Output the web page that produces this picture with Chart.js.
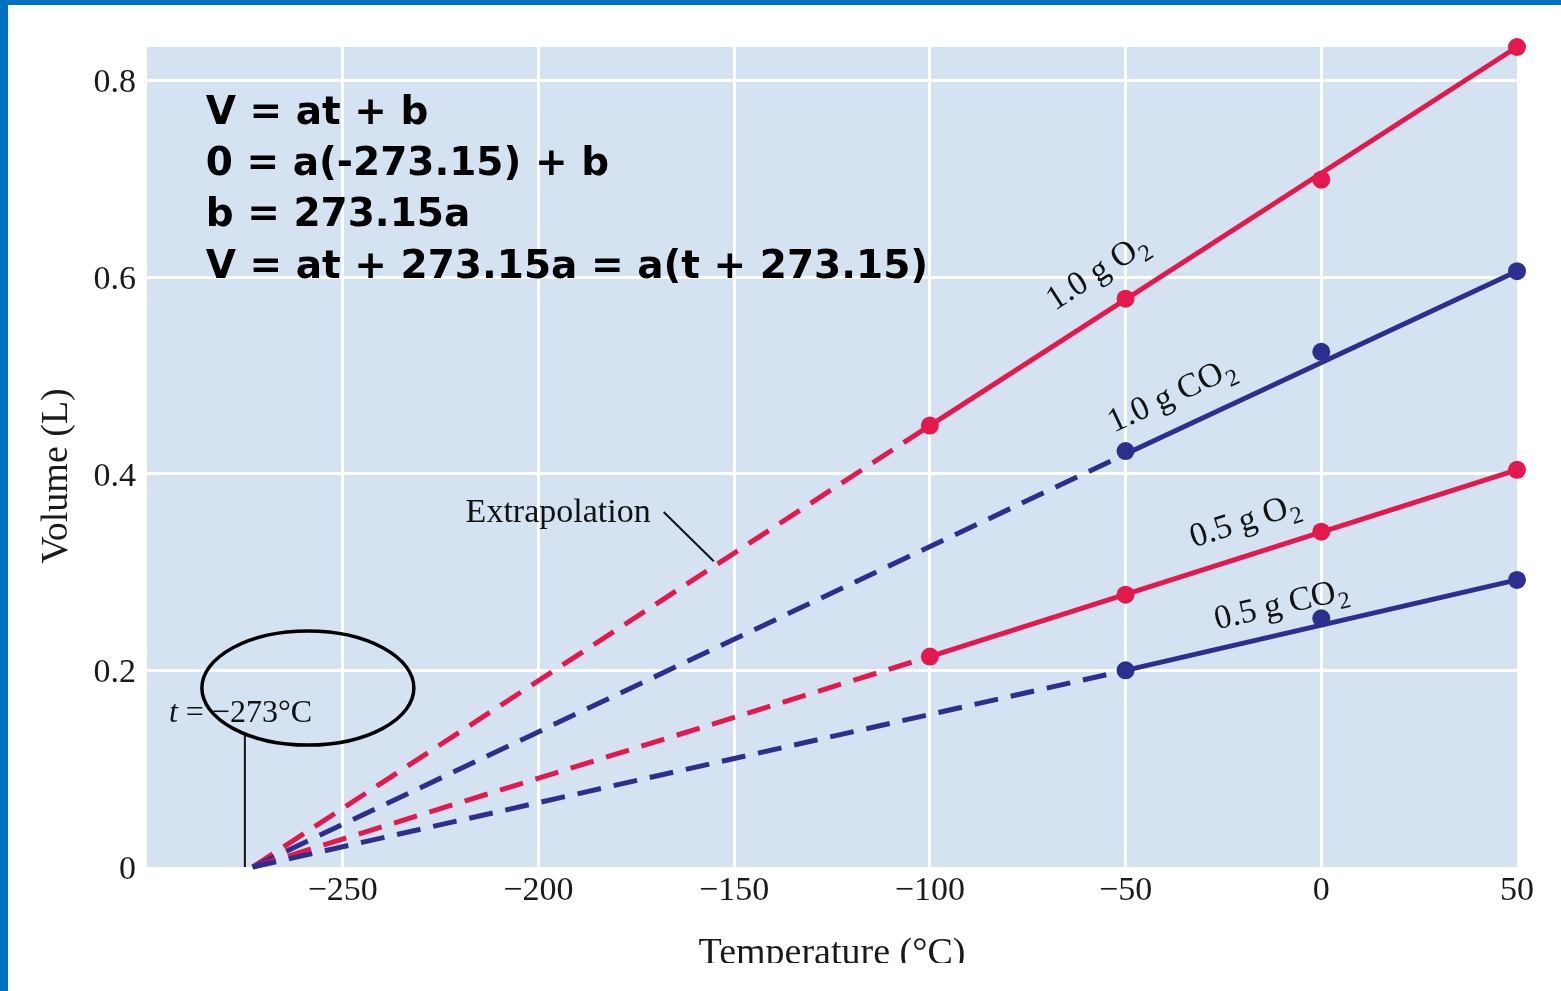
<!DOCTYPE html>
<html>
<head>
<meta charset="utf-8">
<script src="https://cdn.jsdelivr.net/npm/chart.js@4.4.1/dist/chart.umd.min.js"></script>
<style>
  html, body { margin: 0; padding: 0; background: #fff; overflow: hidden; }
  #wrap { position: absolute; left: 0; top: 0; width: 1561px; height: 963px; }
  .bar { position: absolute; background: #0070C0; }
</style>
</head>
<body>
<div id="wrap"><canvas id="gasChart"></canvas></div>
<div class="bar" style="left:0;top:0;width:1561px;height:5px"></div>
<div class="bar" style="left:0;top:0;width:8px;height:991px"></div>
<script>
// axis ticks
const xTicks = [-250, -200, -150, -100, -50, 0, 50];
const yTicks = [0, 0.2, 0.4, 0.6, 0.8];

// measured points (t in °C, V in L)
const o2OneT = [-100, -50, 0, 50];
const o2OneV = [0.449, 0.578, 0.699, 0.834];
const co2OneT = [-50, 0, 50];
const co2OneV = [0.423, 0.524, 0.606];
const o2HalfT = [-100, -50, 0, 50];
const o2HalfV = [0.214, 0.277, 0.341, 0.404];
const co2HalfT = [-50, 0, 50];
const co2HalfV = [0.200, 0.253, 0.292];

// straight lines: absolute zero -> first measurement (dashed) -> last measurement
const o2OneFitT = [-273, -100, 50];
const o2OneFitV = [0, 0.449, 0.834];
const co2OneFitT = [-273, -50, 50];
const co2OneFitV = [0, 0.420, 0.606];
const o2HalfFitT = [-273, -100, 50];
const o2HalfFitV = [0, 0.214, 0.404];
const co2HalfFitT = [-273, -50, 50];
const co2HalfFitV = [0, 0.200, 0.292];

const seriesText = ["1.0 g O", "1.0 g CO", "0.5 g O", "0.5 g CO"];
const equations = [
  "V = at + b",
  "0 = a(-273.15) + b",
  "b = 273.15a",
  "V = at + 273.15a = a(t + 273.15)"
];

const RED = "#E3194D";
const BLUE = "#2C2F8F";
const SERIF = '"Liberation Serif", "Times New Roman", serif';

const zip = (xs, ys) => xs.map((x, i) => ({ x: x, y: ys[i] }));

function fitLine(xs, ys, color) {
  return {
    data: zip(xs, ys),
    borderColor: color,
    borderWidth: 5,
    borderCapStyle: "butt",
    pointRadius: 0,
    clip: false,
    segment: {
      borderDash: ctx => (ctx.p0DataIndex === 0 ? [24, 13] : undefined),
    },
  };
}

function dots(xs, ys, color) {
  return {
    data: zip(xs, ys),
    showLine: false,
    pointRadius: 9,
    pointBackgroundColor: color,
    pointBorderWidth: 0,
    clip: false,
  };
}

// label anchors, in data units
const labelAt = [[-57.5, 0.606], [-38.5, 0.481], [-19.7, 0.353], [-10.4, 0.268]];
const fitLines = [
  [o2OneFitT, o2OneFitV],
  [co2OneFitT, co2OneFitV],
  [o2HalfFitT, o2HalfFitV],
  [co2HalfFitT, co2HalfFitV],
];

const annotate = {
  id: "annotate",
  beforeDraw(chart) {
    const { ctx, chartArea: a } = chart;
    ctx.save();
    ctx.fillStyle = "#D4E2F2";
    ctx.fillRect(a.left, a.top, a.right - a.left, a.bottom - a.top);
    ctx.restore();
  },
  afterDatasetsDraw(chart) {
    const ctx = chart.ctx;
    const xs = chart.scales.x;
    const ys = chart.scales.y;
    const px = v => xs.getPixelForValue(v);
    const py = v => ys.getPixelForValue(v);

    ctx.save();
    // equations
    ctx.fillStyle = "#000";
    ctx.font = 'bold 39px "DejaVu Sans", Verdana, sans-serif';
    ctx.textBaseline = "alphabetic";
    equations.forEach((line, i) => {
      ctx.fillText(line, px(-285), py(0.756) + i * 51.3);
    });

    // line labels, along each line
    fitLines.forEach((f, i) => {
      const n = f[0].length - 1;
      const ang = Math.atan2(py(f[1][n]) - py(f[1][1]), px(f[0][n]) - px(f[0][1]));
      ctx.save();
      ctx.translate(px(labelAt[i][0]), py(labelAt[i][1]));
      ctx.rotate(ang);
      ctx.fillStyle = "#111";
      ctx.font = "34px " + SERIF;
      const w1 = ctx.measureText(seriesText[i]).width;
      ctx.font = "24px " + SERIF;
      const w2 = ctx.measureText("2").width;
      const x0 = -(w1 + w2) / 2;
      ctx.font = "34px " + SERIF;
      ctx.fillText(seriesText[i], x0, 11);
      ctx.font = "24px " + SERIF;
      ctx.fillText("2", x0 + w1 + 1, 19);
      ctx.restore();
    });

    // Extrapolation callout
    ctx.fillStyle = "#111";
    ctx.font = "34px " + SERIF;
    ctx.fillText("Extrapolation", px(-218.6), py(0.351));
    ctx.strokeStyle = "#111";
    ctx.lineWidth = 2;
    ctx.beginPath();
    ctx.moveTo(px(-168), py(0.361));
    ctx.lineTo(px(-155.2), py(0.311));
    ctx.stroke();

    // t = -273 °C callout
    const tx = px(-294.4), ty = py(0.147);
    ctx.font = "italic 32px " + SERIF;
    ctx.fillText("t", tx, ty);
    const tw = ctx.measureText("t").width;
    ctx.font = "32px " + SERIF;
    ctx.fillText(" = \u2212273\u00B0C", tx + tw, ty);
    ctx.lineWidth = 2;
    ctx.beginPath();
    ctx.moveTo(px(-275), py(0.137));
    ctx.lineTo(px(-275), py(0));
    ctx.stroke();

    // ellipse around the value
    ctx.strokeStyle = "#000";
    ctx.lineWidth = 3.5;
    ctx.beginPath();
    ctx.ellipse(px(-258.9), py(0.182), 106, 57, 0, 0, Math.PI * 2);
    ctx.stroke();
    ctx.restore();
  },
};

const chart = new Chart(document.getElementById("gasChart"), {
  type: "line",
  data: {
    datasets: [
      fitLine(co2HalfFitT, co2HalfFitV, BLUE),
      fitLine(o2HalfFitT, o2HalfFitV, RED),
      fitLine(co2OneFitT, co2OneFitV, BLUE),
      fitLine(o2OneFitT, o2OneFitV, RED),
      dots(co2HalfT, co2HalfV, BLUE),
      dots(o2HalfT, o2HalfV, RED),
      dots(co2OneT, co2OneV, BLUE),
      dots(o2OneT, o2OneV, RED),
    ],
  },
  options: {
    responsive: true,
    maintainAspectRatio: false,
    animation: false,
    events: [],
    layout: { padding: { top: 47, right: 44, left: 0, bottom: 0 } },
    scales: {
      x: {
        type: "linear",
        min: -300,
        max: 50,
        afterBuildTicks: s => { s.ticks = xTicks.map(v => ({ value: v })); },
        afterFit: s => { s.height = 96; },
        ticks: {
          color: "#1a1a1a",
          font: { family: SERIF, size: 34 },
          padding: 4,
          maxRotation: 0,
          callback: v => (v < 0 ? "\u2212" + Math.abs(v) : String(v)),
        },
        grid: {
          color: c => (c.tick && c.tick.value === 50 ? "rgba(0,0,0,0)" : "#ffffff"),
          lineWidth: 3,
          drawTicks: false,
        },
        border: { display: false },
        title: {
          display: true,
          text: "Temperature (\u00B0C)",
          color: "#1a1a1a",
          font: { family: SERIF, size: 38, lineHeight: 0.45 },
          padding: 0,
        },
      },
      y: {
        min: 0,
        max: 0.834,
        afterBuildTicks: s => { s.ticks = yTicks.map(v => ({ value: v })); },
        afterFit: s => { s.width = 147; },
        ticks: {
          color: "#1a1a1a",
          font: { family: SERIF, size: 34 },
          padding: 11,
          labelOffset: 3,
          callback: v => (v === 0 ? "0" : v.toFixed(1)),
        },
        grid: {
          color: c => (c.tick && c.tick.value === 0 ? "rgba(0,0,0,0)" : "#ffffff"),
          lineWidth: 3,
          drawTicks: false,
        },
        border: { display: false },
        title: {
          display: true,
          text: "Volume (L)\u2003",
          color: "#1a1a1a",
          font: { family: SERIF, size: 38 },
          padding: { top: 34, bottom: 0 },
        },
      },
    },
    plugins: {
      legend: { display: false },
      tooltip: { enabled: false },
    },
  },
  plugins: [annotate],
});
</script>
</body>
</html>
